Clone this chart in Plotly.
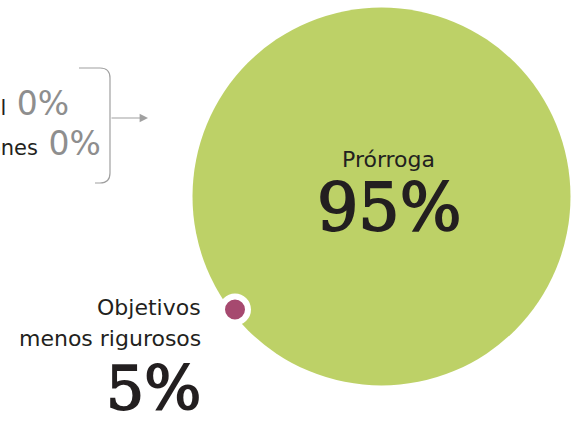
import plotly.graph_objects as go

# Options and the share of cases that chose each one
opciones = ["Prórroga", "Objetivos menos rigurosos", "Cancelación total", "Sanciones"]
porcentajes = [95, 5, 0, 0]

W, H = 572, 421
VERDE = "#BDD167"
ROSA = "#A6496F"
OSCURO = "#231F20"
GRIS = "#8E8E8E"
GRIS_LINEA = "#A0A0A0"

# Slightly heavier serif figures for the big percentages
GRUESO = f"stroke:{OSCURO};stroke-width:1.8px"

fig = go.Figure()

# Big bubble for the main option and a small dot for the minority option
fig.add_trace(go.Scatter(
    x=[381.5], y=[196.5], mode="markers",
    marker=dict(size=378, color=VERDE, line=dict(width=0)),
    hoverinfo="skip", showlegend=False,
))
fig.add_trace(go.Scatter(
    x=[235], y=[309.5], mode="markers",
    marker=dict(size=26, color=ROSA, line=dict(width=6, color="white")),
    hoverinfo="skip", showlegend=False,
))

ann = []
# Main option label and value inside the bubble
ann.append(dict(x=388, y=159, text=opciones[0], showarrow=False,
                font=dict(family="DejaVu Sans", size=22, color=OSCURO),
                xanchor="center", yanchor="middle"))
ann.append(dict(x=389, y=207, text=f"<span style='{GRUESO}'>{porcentajes[0]}%</span>",
                showarrow=False,
                font=dict(family="DejaVu Serif", size=65, color=OSCURO),
                xanchor="center", yanchor="middle"))

# Minority option label (two lines) and value
ann.append(dict(x=203, y=307, text="Objetivos", showarrow=False,
                font=dict(family="DejaVu Sans", size=22, color=OSCURO),
                xanchor="right", yanchor="middle"))
ann.append(dict(x=203, y=338, text="menos rigurosos", showarrow=False,
                font=dict(family="DejaVu Sans", size=22, color=OSCURO),
                xanchor="right", yanchor="middle"))
ann.append(dict(x=203, y=388, text=f"<span style='{GRUESO}'>{porcentajes[1]}%</span>",
                showarrow=False,
                font=dict(family="DejaVu Serif", size=60, color=OSCURO),
                xanchor="right", yanchor="middle"))

# Options with no cases, grouped by a bracket
for nombre, valor, xr, yc in [(opciones[2], porcentajes[2], 71, 103),
                              (opciones[3], porcentajes[3], 103, 143)]:
    ann.append(dict(
        x=xr, y=yc, showarrow=False, xanchor="right", yanchor="middle",
        text=(f"<span style='font-size:21px;color:{OSCURO}'>{nombre}</span> "
              f"<span style='font-size:33px;color:{GRIS}'>{valor}%</span>"),
        font=dict(family="DejaVu Sans", size=33, color=GRIS),
    ))

# Arrow leaving the bracket
ann.append(dict(x=148, y=118, ax=110, ay=118, xref="x", yref="y",
                axref="x", ayref="y", text="", showarrow=True,
                arrowhead=2, arrowsize=1.4, arrowwidth=1.2,
                arrowcolor=GRIS_LINEA))

fig.update_layout(
    annotations=ann,
    shapes=[dict(
        type="path", xref="x", yref="y",
        path="M 79 68 L 100 68 Q 110 68 110 78 L 110 173 Q 110 183 100 183 L 95 183",
        line=dict(color=GRIS_LINEA, width=1.2),
    )],
    width=W, height=H,
    margin=dict(l=0, r=0, t=0, b=0),
    paper_bgcolor="white", plot_bgcolor="white",
    xaxis=dict(range=[0, W], visible=False, fixedrange=True),
    yaxis=dict(range=[H, 0], visible=False, fixedrange=True),
)

fig.write_html("out.html")
